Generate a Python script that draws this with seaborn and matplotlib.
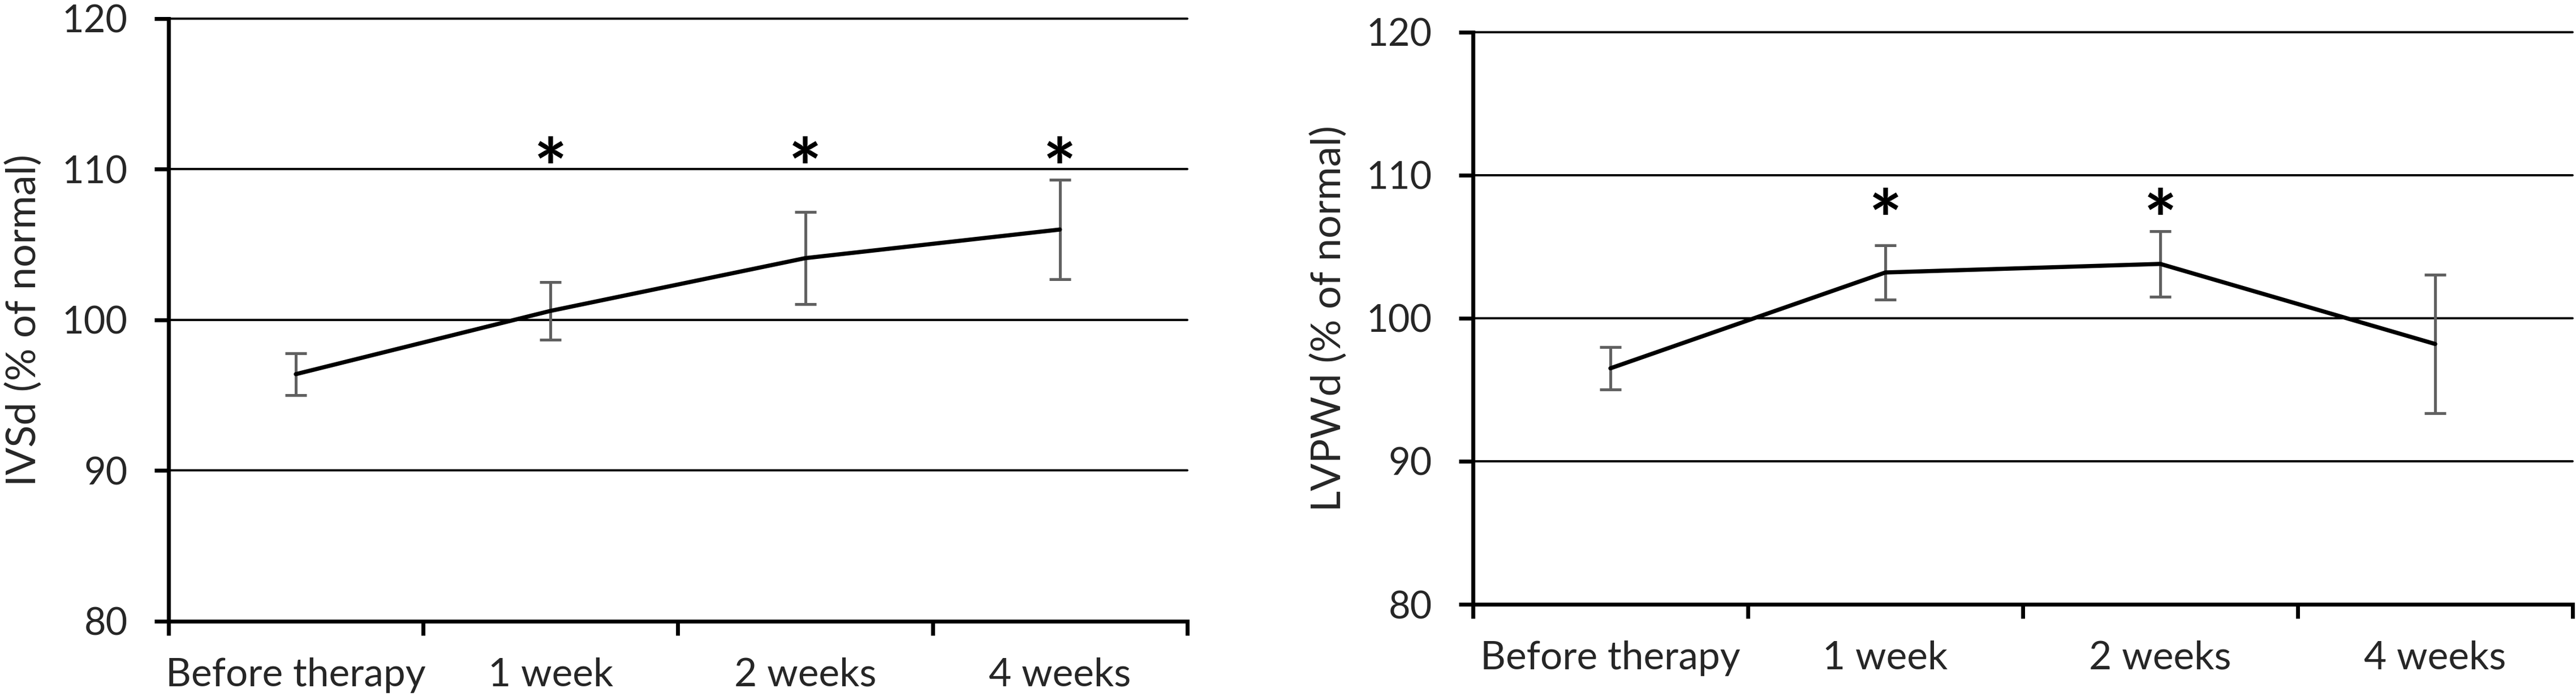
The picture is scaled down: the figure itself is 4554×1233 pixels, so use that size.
import numpy as np
import pandas as pd
import seaborn as sns
import matplotlib.pyplot as plt
from matplotlib.ticker import FixedLocator, FixedFormatter, NullFormatter

# data (mean +/- error, % of normal)
times = ["Before therapy", "1 week", "2 weeks", "4 weeks"]
ivsd_mean = [96.4, 100.6, 104.1, 106.0]
ivsd_err = [1.4, 1.9, 3.05, 3.3]
ivsd_sig = [False, True, True, True]
lvpwd_mean = [96.5, 103.2, 103.8, 98.2]
lvpwd_err = [1.5, 1.9, 2.3, 4.85]
lvpwd_sig = [False, True, True, False]
yticks = [80, 90, 100, 110, 120]

sns.set_theme(style="white")
plt.rcParams["font.family"] = ["Lato", "DejaVu Sans"]

fig = plt.figure(figsize=(45.54, 12.33), dpi=100)
ax1 = fig.add_axes([0.0654, 0.1087, 0.3955, 0.8646])
ax2 = fig.add_axes([0.5718, 0.1330, 0.4269, 0.8208])

STAR_FS = 100


def panel(ax, means, errs, sig, star_y, ylabel, lab_x):
    df = pd.DataFrame({"pos": np.arange(len(times)), "value": means, "err": errs})
    ax.errorbar(df["pos"], df["value"], yerr=df["err"], fmt="none",
                ecolor="#606060", elinewidth=3.6, capsize=14, capthick=3.6, zorder=2)
    sns.lineplot(data=df, x="pos", y="value", ax=ax, color="black",
                 linewidth=5.3, zorder=3)
    # significance marks, ink centred on star_y
    for i, s in enumerate(sig):
        if s:
            ax.annotate("*", (i, star_y), xytext=(0, -0.58 * STAR_FS),
                        textcoords="offset points", ha="center", va="baseline",
                        fontsize=STAR_FS, fontweight="bold", color="black")

    ax.set_xlim(-0.5, len(times) - 0.5)
    ax.set_ylim(80, 120)
    ax.yaxis.set_major_locator(FixedLocator(yticks))
    ax.xaxis.set_major_locator(FixedLocator(np.arange(len(times) + 1) - 0.5))
    ax.xaxis.set_major_formatter(NullFormatter())
    ax.xaxis.set_minor_locator(FixedLocator(np.arange(len(times))))
    ax.xaxis.set_minor_formatter(FixedFormatter(times))
    ax.tick_params(axis="both", which="major", direction="out", length=18,
                   width=5, color="black", labelsize=48, pad=34, left=True, bottom=True)
    ax.tick_params(axis="x", which="minor", length=0, labelsize=50, pad=46, bottom=True)
    ax.yaxis.grid(True, color="black", linewidth=2.8)
    for gl in ax.get_ygridlines():
        gl.set_clip_on(False)
    ax.xaxis.grid(False)
    for side in ["top", "right"]:
        ax.spines[side].set_visible(False)
    for side in ["left", "bottom"]:
        ax.spines[side].set_linewidth(5)
        ax.spines[side].set_color("black")
    ax.set_xlabel("")
    ax.set_ylabel(ylabel, fontsize=52, va="center")
    ax.yaxis.set_label_coords(lab_x, 0.5)


panel(ax1, ivsd_mean, ivsd_err, ivsd_sig, 111.2, "IVSd (% of normal)", -0.142)
panel(ax2, lvpwd_mean, lvpwd_err, lvpwd_sig, 108.1, "LVPWd (% of normal)", -0.131)

fig.savefig("out.png", dpi=100, facecolor="white")
